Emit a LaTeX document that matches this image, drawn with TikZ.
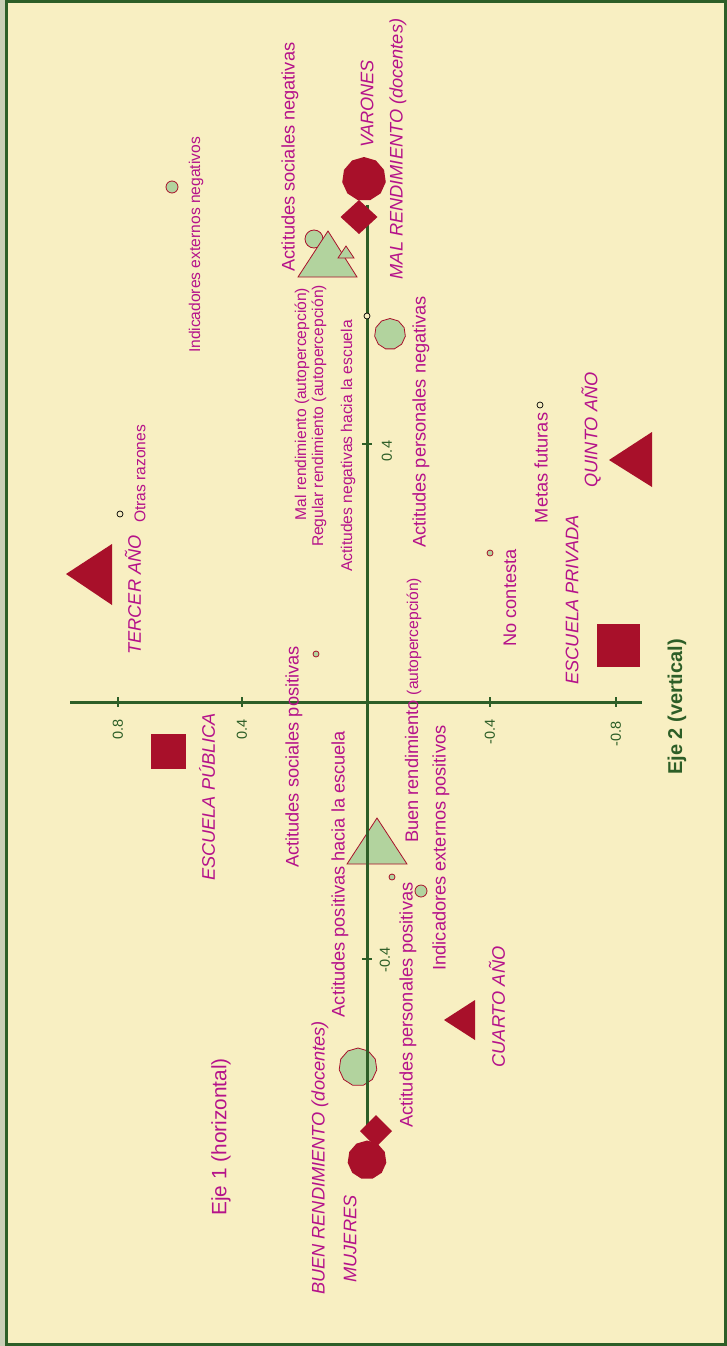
\documentclass[tikz,border=0pt]{standalone}
\usepackage{fontspec}
\setmainfont{Liberation Sans}
\usetikzlibrary{shapes.geometric}
\definecolor{bg}{HTML}{F8EFC2}
\definecolor{strip}{HTML}{C9CFB6}
\definecolor{mag}{HTML}{B5128A}
\definecolor{crim}{HTML}{A8102A}
\definecolor{lgreen}{HTML}{B2D39E}
\definecolor{dgreen}{HTML}{2D5E27}
\begin{document}
\begin{tikzpicture}[x=1pt,y=-1pt,
 lab/.style={rotate=90, inner sep=0pt, text=mag, font=\fontsize{18.2}{20}\selectfont},
 slab/.style={rotate=90, inner sep=0pt, text=mag, font=\fontsize{15.6}{17}\selectfont},
 ilab/.style={rotate=90, inner sep=0pt, text=mag, font=\fontsize{18.2}{20}\selectfont\itshape},
 tlab/.style={rotate=90, inner sep=0pt, text=dgreen, font=\fontsize{14.5}{16}\selectfont},
 redpoly/.style={regular polygon, regular polygon sides=11, fill=crim, draw=none, inner sep=0pt},
 grnpoly/.style={regular polygon, regular polygon sides=11, fill=lgreen, draw=crim, line width=0.8pt, inner sep=0pt},
 redm/.style={fill=crim, draw=none},
 grnm/.style={fill=lgreen, draw=crim, line width=0.8pt},
 bdot/.style={circle, draw=black, fill=bg, line width=0.7pt, minimum size=6pt, inner sep=0pt},
 rdot/.style={circle, draw=crim, fill=lgreen, line width=0.8pt, minimum size=6pt, inner sep=0pt},
 gcirc/.style={circle, fill=lgreen, draw=crim, line width=0.8pt, inner sep=0pt},
 axisline/.style={draw=dgreen, line width=3pt},
 tickline/.style={draw=dgreen, line width=1.3pt},
]
\useasboundingbox (0,0) rectangle (727,1346);
\fill[strip] (0,0) rectangle (6,1346);
\fill[bg] (6,0) rectangle (727,1346);
\draw[dgreen, line width=2.8pt] (6.5,1.25) rectangle (725.75,1344.75);

% green markers (under the axes)
\node[gcirc, minimum size=18pt] (gc1) at (314,239) {};
\filldraw[grnm] (328,231) -- (357,277) -- (298,277) -- cycle;
\filldraw[grnm] (346,246) -- (354,258) -- (338,258) -- cycle;
\node[grnpoly, minimum size=31pt] (gp1) at (390,334) {};
\node[gcirc, minimum size=12pt] (gc2) at (172,187) {};
\filldraw[grnm] (377,818) -- (407,864) -- (347,864) -- cycle;
\node[gcirc, minimum size=12pt] (gc3) at (421,891) {};
\node[grnpoly, minimum size=38pt] (gp2) at (358,1067) {};

% axes
\coordinate (h1) at (70,702);
\coordinate (h2) at (642,702);
\coordinate (v1) at (367,205);
\coordinate (v2) at (367,1125);
\draw[axisline] (h1) -- (h2);
\draw[axisline] (v1) -- (v2);
\foreach \x in {118,242,490,616} \draw[tickline] (\x,697) -- (\x,707);
\foreach \y in {444,959} \draw[tickline] (362,\y) -- (372,\y);
\node[tlab, anchor=east] (t1) at (118,719) {0.8};
\node[tlab, anchor=east] (t2) at (242,719) {0.4};
\node[tlab, anchor=east] (t3) at (490,719) {-0.4};
\node[tlab, anchor=east] (t4) at (616,721) {-0.8};
\node[tlab] (t5) at (387,451) {0.4};
\node[tlab] (t6) at (385,960) {-0.4};

% small dots
\node[bdot] (d1) at (367,316) {};
\node[bdot] (d2) at (540,405) {};
\node[bdot] (d3) at (120,514) {};
\node[rdot] (d4) at (316,654) {};
\node[rdot] (d5) at (490,553) {};
\node[rdot] (d6) at (392,877) {};

% red markers
\node[redpoly, minimum size=44pt] (rp1) at (364,179) {};
\fill[redm] (359,200) -- (377.5,217) -- (359,234) -- (340.5,217) -- cycle;
\fill[redm] (609,460) -- (652,432) -- (652,487) -- cycle;
\fill[redm] (66,574) -- (112,544) -- (112,605) -- cycle;
\fill[redm] (597,624) rectangle (640,667);
\fill[redm] (151,734) rectangle (186,769);
\fill[redm] (444,1020) -- (475,1000) -- (475,1040) -- cycle;
\node[redpoly, minimum size=39pt] (rp2) at (367,1160) {};
\fill[redm] (376,1115) -- (392,1131) -- (376,1147) -- (360,1131) -- cycle;

% labels
\node[lab] (l1) at (290,157) {Actitudes sociales negativas};
\node[ilab] (l2) at (367,104) {VARONES};
\node[ilab] (l3) at (398,149) {MAL RENDIMIENTO (docentes)};
\node[slab] (l4) at (196,245) {Indicadores externos negativos};
\node[slab] (l5) at (302,404) {Mal rendimiento (autopercepción)};
\node[slab] (l6) at (319,416) {Regular rendimiento (autopercepción)};
\node[slab] (l7) at (348,446) {Actitudes negativas hacia la escuela};
\node[lab] (l8) at (421,422) {Actitudes personales negativas};
\node[lab] (l9) at (541,468) {Metas futuras};
\node[ilab] (l10) at (591,430) {QUINTO AÑO};
\node[ilab] (l11) at (133,595) {TERCER AÑO};
\node[slab] (l12) at (140,474) {Otras razones};
\node[lab] (l13) at (510,598) {No contesta};
\node[ilab] (l14) at (572,600) {ESCUELA PRIVADA};
\node[lab, anchor=base west] (l15) at (418,843) {Buen rendimiento {\fontsize{15.6}{17}\selectfont (autopercepción)}};
\node[lab] (l16) at (441,848) {Indicadores externos positivos};
\node[lab] (l17) at (294,757) {Actitudes sociales positivas};
\node[lab] (l18) at (340,874) {Actitudes positivas hacia la escuela};
\node[lab] (l19) at (408,1005) {Actitudes personales positivas};
\node[ilab] (l20) at (497,1007) {CUARTO AÑO};
\node[ilab] (l21) at (320,1158) {BUEN RENDIMIENTO (docentes)};
\node[ilab] (l22) at (350,1239) {MUJERES};
\node[ilab] (l23) at (207,797) {ESCUELA PÚBLICA};
\node[rotate=90, inner sep=0pt, text=mag, font=\fontsize{20.8}{23}\selectfont] (ax1) at (221,1137) {Eje 1 (horizontal)};
\node[rotate=90, inner sep=0pt, text=dgreen, font=\fontsize{20}{22}\selectfont\bfseries] (ax2) at (677,707) {Eje 2 (vertical)};
\end{tikzpicture}
\end{document}
